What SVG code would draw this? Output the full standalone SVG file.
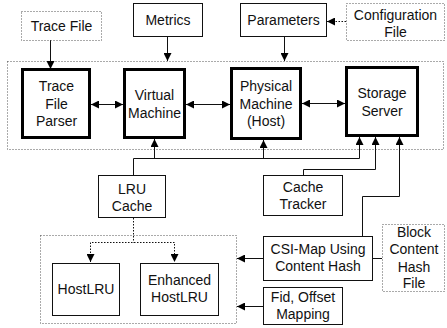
<svg xmlns="http://www.w3.org/2000/svg" width="447" height="328" viewBox="0 0 447 328">
<defs>
<style>
text{font-family:"Liberation Sans",Arial,sans-serif;font-size:14px;fill:#111;text-anchor:middle}
.box{fill:#fff;stroke:#111;stroke-width:1}
.thick{fill:#fff;stroke:#000;stroke-width:3}
.dot{fill:none;stroke:#555;stroke-width:1;stroke-dasharray:1,2}
.ln{fill:none;stroke:#111;stroke-width:1}
.dln{fill:none;stroke:#111;stroke-width:1;stroke-dasharray:1.5,1.5}
</style>
<marker id="ah" viewBox="0 0 8 8" refX="8" refY="4" markerWidth="8" markerHeight="8" markerUnits="userSpaceOnUse" orient="auto-start-reverse">
<path d="M0,0 L8,4 L0,8 z" fill="#000"/>
</marker>
</defs>
<rect class="dot" x="7.5" y="61.5" width="436" height="88"/>
<rect class="dot" x="40.5" y="235.5" width="196" height="88"/>
<g id="connectors">
<line class="ln" x1="50.5" y1="40" x2="50.5" y2="69" marker-end="url(#ah)"/>
<line class="ln" x1="167.5" y1="37" x2="167.5" y2="61" marker-end="url(#ah)"/>
<line class="ln" x1="284.5" y1="36" x2="284.5" y2="61" marker-end="url(#ah)"/>
<line class="dln" x1="346" y1="21.5" x2="327" y2="21.5" marker-end="url(#ah)"/>
<line class="ln" x1="91" y1="104.5" x2="123" y2="104.5" marker-start="url(#ah)" marker-end="url(#ah)"/>
<line class="ln" x1="186" y1="104.5" x2="230" y2="104.5" marker-start="url(#ah)" marker-end="url(#ah)"/>
<line class="ln" x1="302" y1="103.5" x2="345" y2="103.5" marker-start="url(#ah)" marker-end="url(#ah)"/>
<polyline class="ln" points="133.5,175 133.5,158.5 359.5,158.5"/>
<line class="ln" x1="154.5" y1="158.5" x2="154.5" y2="139" marker-end="url(#ah)"/>
<line class="ln" x1="263.5" y1="158.5" x2="263.5" y2="140" marker-end="url(#ah)"/>
<line class="ln" x1="359.5" y1="158.5" x2="359.5" y2="137" marker-end="url(#ah)"/>
<polyline class="ln" points="303.5,175 303.5,169.5 375.5,169.5 375.5,137" marker-end="url(#ah)"/>
<polyline class="ln" points="362.5,236 362.5,196.5 399.5,196.5 399.5,137" marker-end="url(#ah)"/>
<line class="ln" x1="372" y1="258.5" x2="382" y2="258.5"/>
<line class="ln" x1="263" y1="258.5" x2="237" y2="258.5" marker-end="url(#ah)"/>
<line class="ln" x1="263" y1="306.5" x2="237" y2="306.5" marker-end="url(#ah)"/>
<polyline class="dln" points="133.5,218 133.5,242.5"/>
<polyline class="dln" points="90.5,262 90.5,242.5 174.5,242.5 174.5,262"/>
<line class="ln" x1="90.5" y1="254" x2="90.5" y2="262" marker-end="url(#ah)" stroke-opacity="0"/>
<line class="ln" x1="174.5" y1="254" x2="174.5" y2="262" marker-end="url(#ah)" stroke-opacity="0"/>
</g>
<g id="trace-file"><rect class="dot" x="21.5" y="11.5" width="80" height="29"/><text x="61.5" y="30.5">Trace File</text></g>
<g id="metrics"><rect class="box" x="133.5" y="3.5" width="69" height="33"/><text x="168" y="25">Metrics</text></g>
<g id="parameters"><rect class="box" x="240.5" y="3.5" width="86" height="33"/><text x="283.5" y="25">Parameters</text></g>
<g id="configuration-file"><rect class="dot" x="346.5" y="3.5" width="98" height="37"/><text x="395.5" y="20">Configuration</text><text x="395.5" y="37">File</text></g>
<g id="trace-file-parser"><rect class="thick" x="22.5" y="69.5" width="67" height="68"/><text x="56.5" y="91">Trace</text><text x="56.5" y="108.5">File</text><text x="56.5" y="126">Parser</text></g>
<g id="virtual-machine"><rect class="thick" x="124.5" y="69.5" width="60" height="68"/><text x="154.5" y="100">Virtual</text><text x="154.5" y="117.5">Machine</text></g>
<g id="physical-machine"><rect class="thick" x="231.5" y="68.5" width="69" height="70"/><text x="266" y="91">Physical</text><text x="266" y="108.5">Machine</text><text x="266" y="126">(Host)</text></g>
<g id="storage-server"><rect class="thick" x="346.5" y="67.5" width="71" height="68"/><text x="382" y="98">Storage</text><text x="382" y="115.5">Server</text></g>
<g id="lru-cache"><rect class="box" x="98.5" y="175.5" width="67" height="42"/><text x="132" y="194">LRU</text><text x="132" y="210.5">Cache</text></g>
<g id="cache-tracker"><rect class="box" x="263.5" y="175.5" width="79" height="40"/><text x="303" y="192">Cache</text><text x="303" y="208.5">Tracker</text></g>
<g id="csi-map"><rect class="box" x="263.5" y="236.5" width="109" height="44"/><text x="318" y="254">CSI-Map Using</text><text x="318" y="271">Content Hash</text></g>
<g id="block-content-hash-file"><rect class="dot" x="382.5" y="224.5" width="62" height="67"/><text x="414" y="237">Block</text><text x="414" y="254">Content</text><text x="414" y="271.5">Hash</text><text x="414" y="288">File</text></g>
<g id="fid-offset-mapping"><rect class="box" x="263.5" y="287.5" width="79" height="37"/><text x="303" y="302">Fid, Offset</text><text x="303" y="318.5">Mapping</text></g>
<g id="hostlru"><rect class="box" x="52.5" y="263.5" width="67" height="52"/><text x="86" y="294">HostLRU</text></g>
<g id="enhanced-hostlru"><rect class="box" x="140.5" y="263.5" width="78" height="52"/><text x="179.5" y="285">Enhanced</text><text x="179.5" y="302">HostLRU</text></g>
</svg>
